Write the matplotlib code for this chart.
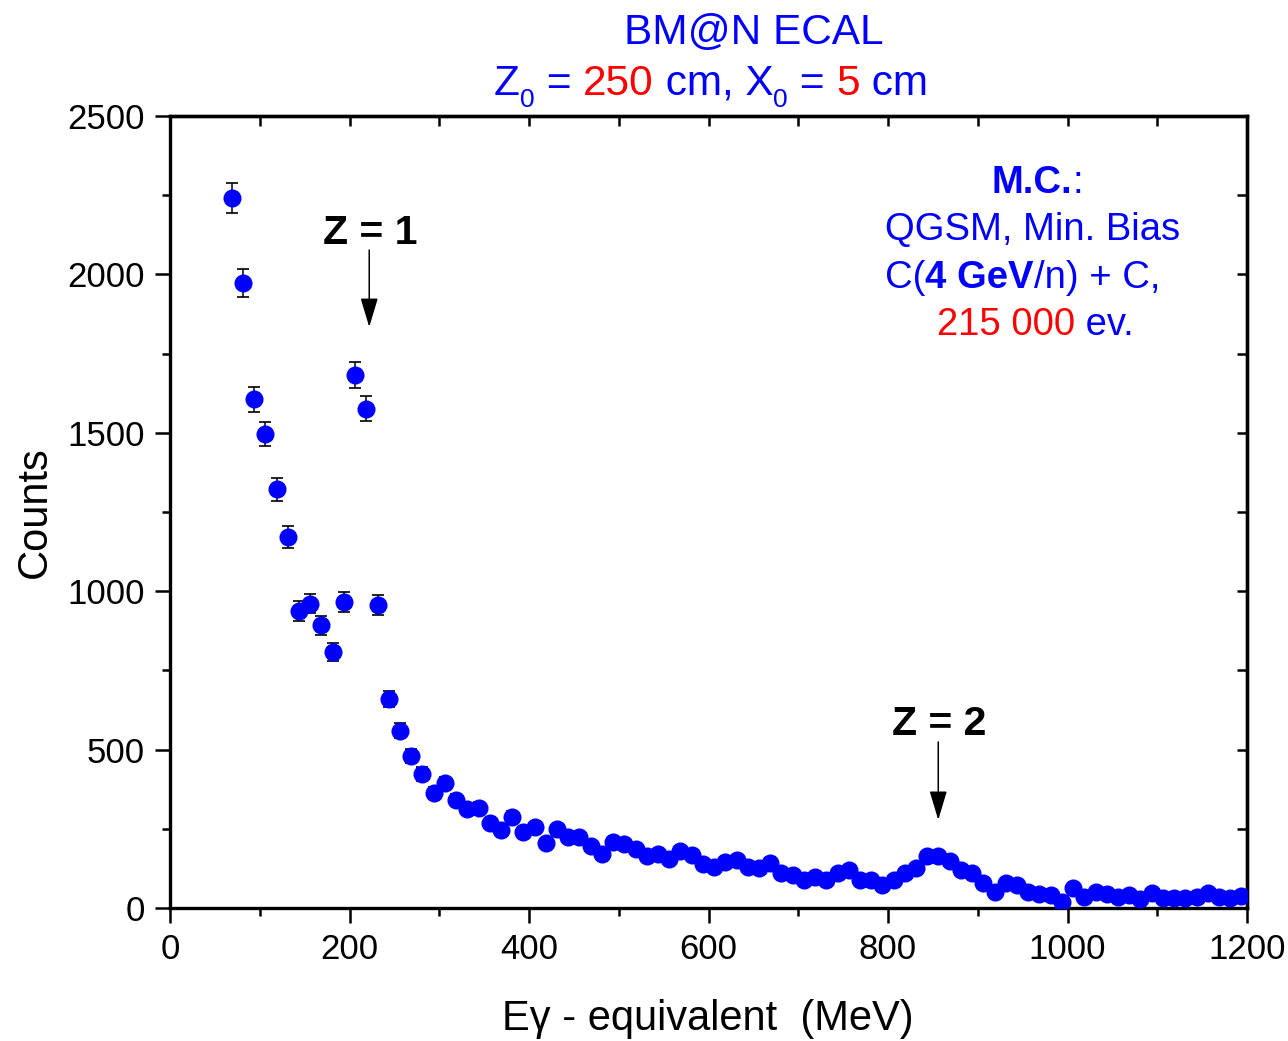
import numpy as np
import matplotlib
matplotlib.use("Agg")
import matplotlib.pyplot as plt
from matplotlib.font_manager import FontProperties
from matplotlib.ticker import MultipleLocator

plt.rcParams['font.family'] = ['Liberation Sans', 'DejaVu Sans']

# Spectrum: bin centres (12.5 MeV bins) and counts per bin
energy = np.arange(68.75, 1200.0, 12.5)
counts = np.array([
    2242, 1974, 1606, 1496, 1322, 1172, 938, 961, 893, 809,
    965, 1682, 1576, 956, 660, 559, 480, 423, 364, 395,
    341, 311, 316, 267, 246, 288, 241, 257, 206, 249,
    225, 225, 195, 172, 209, 202, 186, 164, 172, 156,
    180, 167, 140, 130, 146, 151, 130, 125, 141, 109,
    104, 88, 99, 88, 109, 120, 88, 88, 73, 88,
    109, 125, 164, 164, 149, 120, 109, 78, 50, 80,
    73, 52, 44, 41, 20, 62, 34, 52, 43, 36,
    41, 27, 48, 33, 31, 31, 36, 46, 36, 33,
    38,
])
errors = np.sqrt(counts)

x_ticks = [0, 200, 400, 600, 800, 1000, 1200]
y_ticks = [0, 500, 1000, 1500, 2000, 2500]

W, H = 1288, 1041
fig = plt.figure(figsize=(W / 100, H / 100), dpi=100)
ax = fig.add_axes([170 / W, 1 - 908 / H, (1247 - 170) / W, (908 - 116) / H])

BLUE = '#0000ff'
RED = '#ff0000'

ax.errorbar(energy, counts, yerr=errors, fmt='none', ecolor='black',
            elinewidth=1.1, capsize=4.5, capthick=1.2, zorder=2)
ax.plot(energy, counts, 'o', color=BLUE, markersize=13, markeredgewidth=0, zorder=3)

ax.set_xlim(0, 1200)
ax.set_ylim(0, 2500)
ax.set_xticks(x_ticks)
ax.set_yticks(y_ticks)
ax.xaxis.set_minor_locator(MultipleLocator(100))
ax.yaxis.set_minor_locator(MultipleLocator(250))
ax.tick_params(which='both', direction='out', width=1.8, labelsize=25)
ax.tick_params(which='major', length=11)
ax.tick_params(which='minor', length=6)
ax.tick_params(axis='x', pad=7)
ax.tick_params(axis='y', pad=7)
for sp in ax.spines.values():
    sp.set_linewidth(2.4)

# inward ticks on the top and right frame
top = ax.secondary_xaxis('top')
top.set_xticks(np.arange(0, 1201, 100))
top.tick_params(direction='in', length=7, width=1.8, labeltop=False)
top.spines['top'].set_linewidth(2.4)
right = ax.secondary_yaxis('right')
right.set_yticks(np.arange(0, 2501, 250))
right.tick_params(direction='in', length=7, width=1.8, labelright=False)
right.spines['right'].set_linewidth(2.4)

# axis labels
fig.text(35 / W, 1 - 512 / H, 'Counts', rotation=90, fontsize=30,
         ha='center', va='center')
fig.text(708 / W, 1 - 1030 / H, 'E\u03b3 - equivalent  (MeV)', fontsize=30,
         ha='center', va='baseline')

# peak markers
ax.text(170.5, 2096, 'Z = 1', fontsize=29.5, fontweight='bold', ha='left', va='baseline')
ax.annotate('', xy=(222, 1834), xytext=(222, 2077),
            arrowprops=dict(arrowstyle='-|>,head_length=1.0,head_width=0.3',
                            mutation_scale=18, color='black', lw=1.1,
                            shrinkA=0, shrinkB=0))
ax.text(804.5, 546, 'Z = 2', fontsize=29.5, fontweight='bold', ha='left', va='baseline')
ax.annotate('', xy=(856, 278), xytext=(856, 524),
            arrowprops=dict(arrowstyle='-|>,head_length=1.0,head_width=0.3',
                            mutation_scale=18, color='black', lw=1.1,
                            shrinkA=0, shrinkB=0))

renderer = fig.canvas.get_renderer()


def advance(s, fp):
    w1 = renderer.get_text_width_height_descent('|' + s + '|', fp, ismath=False)[0]
    w0 = renderer.get_text_width_height_descent('||', fp, ismath=False)[0]
    return w1 - w0


def rich_line(x0, base, pieces):
    """Draw a run of differently styled pieces on one baseline (pixel coords)."""
    x = x0
    for s, color, weight, size, dy in pieces:
        fp = FontProperties(family='Liberation Sans', size=size, weight=weight)
        fig.text(x / W, 1 - (base + dy) / H, s, fontproperties=fp, color=color,
                 ha='left', va='baseline')
        x += advance(s, fp)


# title
rich_line(624, 44, [('BM@N ECAL', BLUE, 'normal', 30.5, 0)])
rich_line(494, 95, [
    ('Z', BLUE, 'normal', 30.5, 0),
    ('0', BLUE, 'normal', 19, 12),
    (' = ', BLUE, 'normal', 30.5, 0),
    ('250', RED, 'normal', 30.5, 0),
    (' cm, X', BLUE, 'normal', 30.5, 0),
    ('0', BLUE, 'normal', 19, 12),
    (' = ', BLUE, 'normal', 30.5, 0),
    ('5', RED, 'normal', 30.5, 0),
    (' cm', BLUE, 'normal', 30.5, 0),
])

# simulation info block
rich_line(992, 193, [('M.C.', BLUE, 'bold', 27.5, 0), (':', BLUE, 'normal', 27.5, 0)])
rich_line(885, 240, [('QGSM, Min. Bias', BLUE, 'normal', 27.5, 0)])
rich_line(885, 288, [
    ('C(', BLUE, 'normal', 27.5, 0),
    ('4 GeV', BLUE, 'bold', 27.5, 0),
    ('/n) + C,', BLUE, 'normal', 27.5, 0),
])
rich_line(937, 335, [('215 000', RED, 'normal', 27.5, 0), (' ev.', BLUE, 'normal', 27.5, 0)])

fig.savefig('out.png', dpi=100)
